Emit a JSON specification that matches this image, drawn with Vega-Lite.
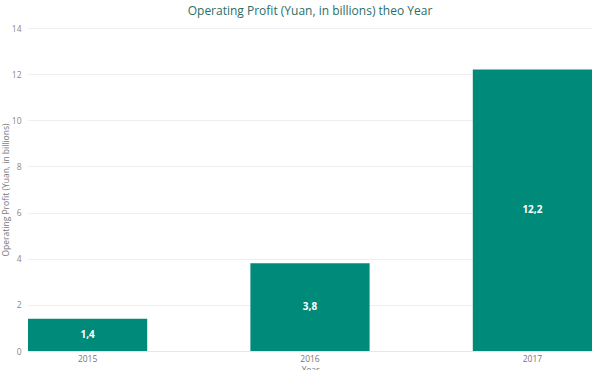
{
  "$schema": "https://vega.github.io/schema/vega-lite/v6.json",
  "width": 564,
  "height": 323,
  "autosize": "none",
  "padding": {"left": 28, "top": 28, "right": 8, "bottom": 19},
  "background": "white",
  "title": {
    "text": "Operating Profit (Yuan, in billions) theo Year",
    "fontSize": 12,
    "font": "Open Sans",
    "fontWeight": "normal",
    "color": "#2c6e66",
    "anchor": "middle",
    "offset": 6
  },
  "data": {
    "values": [
      {"Year": "2015", "value": 1.4},
      {"Year": "2016", "value": 3.8},
      {"Year": "2017", "value": 12.2}
    ]
  },
  "encoding": {
    "x": {
      "field": "Year",
      "type": "nominal",
      "scale": {"paddingInner": 0.464, "paddingOuter": 0},
      "axis": {
        "title": "Year",
        "labelAngle": 0,
        "ticks": false,
        "labelPadding": 3,
        "titlePadding": 3,
        "domainColor": "#e6e6e6",
        "labelColor": "#777",
        "titleColor": "#777",
        "labelFontSize": 8.5,
        "titleFontSize": 8.5,
        "titleFontWeight": "normal",
        "labelFont": "Open Sans",
        "titleFont": "Open Sans"
      }
    }
  },
  "layer": [
    {
      "mark": {"type": "bar", "color": "#008a7a"},
      "encoding": {
        "y": {
          "field": "value",
          "type": "quantitative",
          "scale": {"domain": [0, 14]},
          "axis": {
            "title": "Operating Profit (Yuan, in billions)",
            "values": [0, 2, 4, 6, 8, 10, 12, 14],
            "ticks": false,
            "domain": false,
            "gridColor": "#eeeeee",
            "labelPadding": 7,
            "titlePadding": 1,
            "labelColor": "#888",
            "titleColor": "#777",
            "labelFontSize": 8.5,
            "titleFontSize": 8.5,
            "titleFontWeight": "normal",
            "labelFont": "Open Sans",
            "titleFont": "Open Sans"
          }
        }
      }
    },
    {
      "transform": [{"calculate": "datum.value / 2", "as": "mid"}],
      "mark": {"type": "text", "color": "white", "fontWeight": "bold", "fontSize": 10, "font": "Open Sans", "baseline": "middle"},
      "encoding": {
        "y": {"field": "mid", "type": "quantitative"},
        "text": {"field": "value", "type": "quantitative", "format": ".1f"}
      }
    }
  ],
  "config": {
    "view": {"stroke": null},
    "locale": {
      "number": {"decimal": ",", "thousands": ".", "grouping": [3], "currency": ["", ""]}
    }
  }
}
